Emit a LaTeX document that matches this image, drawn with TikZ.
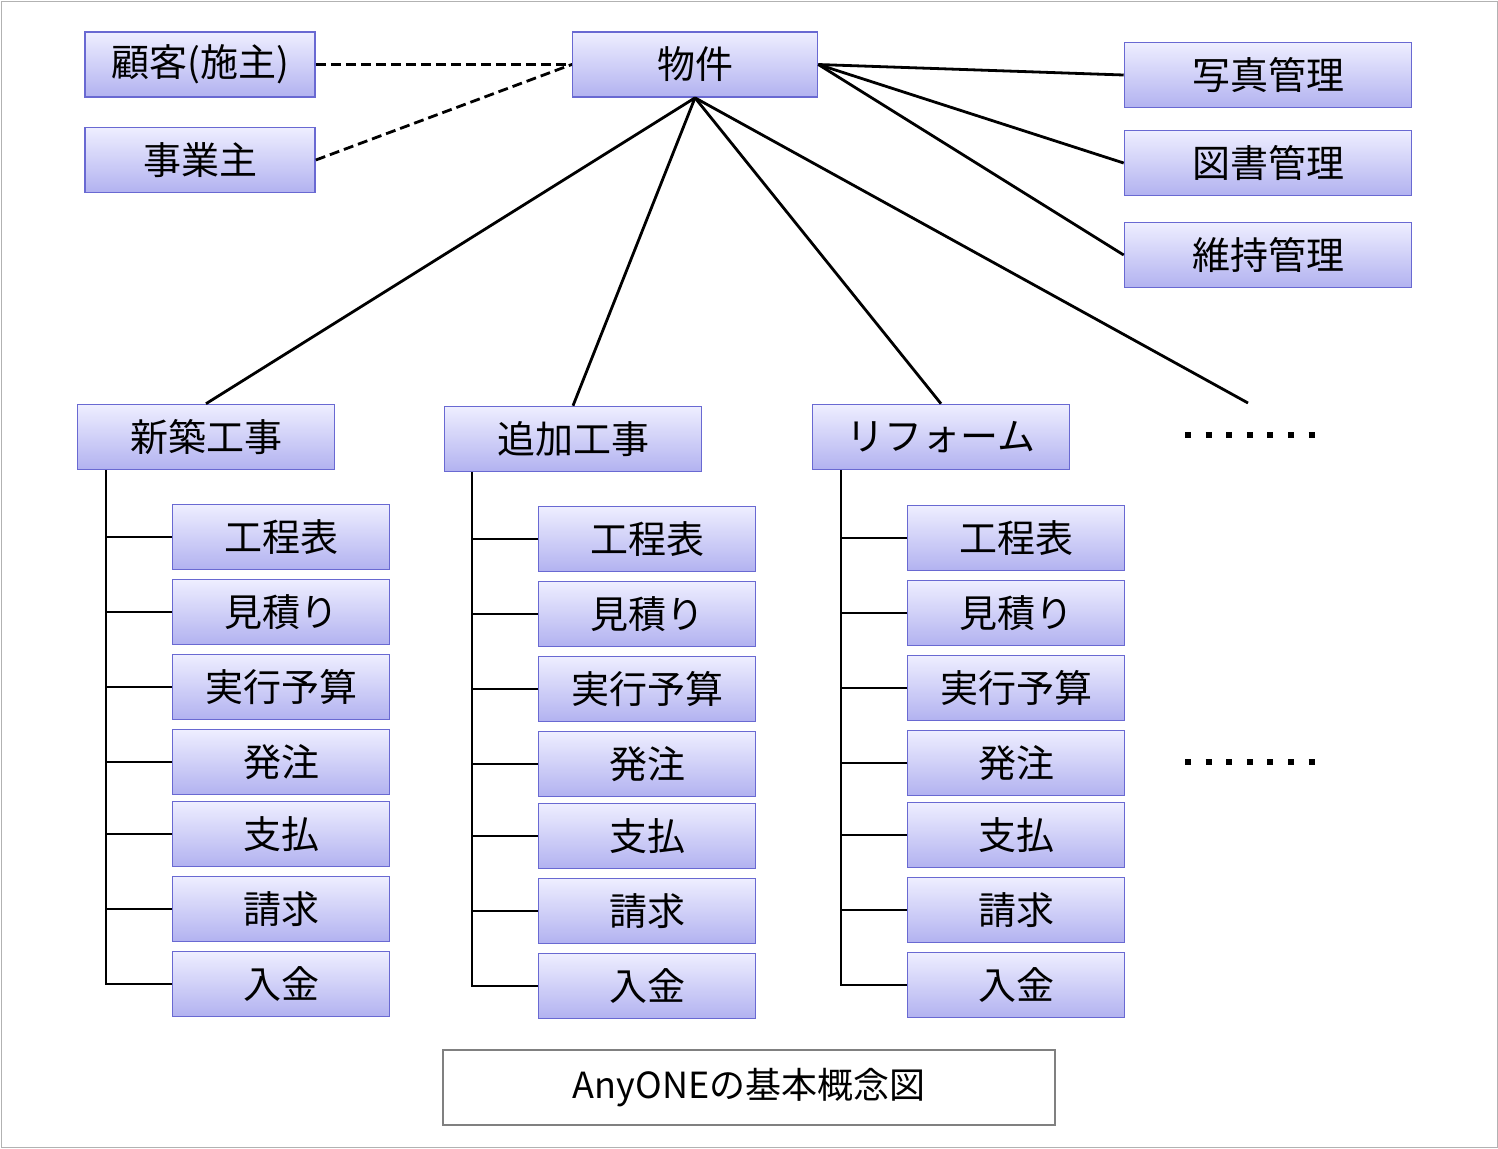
\documentclass[tikz,border=0pt]{standalone}
\usepackage{fontspec}
\setmainfont{Noto Sans CJK JP}
\usetikzlibrary{positioning}
\definecolor{boxtop}{RGB}{238,238,255}
\definecolor{boxbot}{RGB}{178,178,240}
\definecolor{boxline}{RGB}{105,105,210}
\tikzstyle{item}=[rectangle,
	draw=boxline,
	thick,
	top color=boxtop,
	bottom color=boxbot,
	minimum height=32.5pt,
	inner sep=0pt,
	font=\fontsize{19}{21}\selectfont]
\tikzstyle{sub}=[item,
	minimum width=108.5pt]
\tikzstyle{link}=[line width=1.4pt]
\begin{document}
\begin{tikzpicture}[x=0.5pt,y=-0.5pt]
	\useasboundingbox (0,0) rectangle (1498,1148);
	\draw[gray!60] (1,1) rectangle (1497,1147);

	\node (bukken) [item, minimum width=122.5pt] at (695,64.5) {物件};
	\node (kokyaku) [item, minimum width=115pt] at (200,64.5) {顧客(施主)};
	\node (jigyo) [item, minimum width=115pt] at (200,160) {事業主};
	\draw[link, dash pattern=on 5pt off 2.5pt] (kokyaku) -- (bukken.west);
	\draw[link, dash pattern=on 5pt off 2.5pt] (jigyo.east) -- (bukken.west);

	\node (shashin) [item, minimum width=143.5pt] at (1268,75) {写真管理};
	\node (tosho) [item, minimum width=143.5pt] at (1268,163) {図書管理};
	\node (iji) [item, minimum width=143.5pt] at (1268,255) {維持管理};
	\draw[link] (bukken.east) -- (shashin.west);
	\draw[link] (bukken.east) -- (tosho.west);
	\draw[link] (bukken.east) -- (iji.west);

	\node (shinchiku) [item, minimum width=128.5pt] at (206,437) {新築工事};
	\node (tsuika) [item, minimum width=128.5pt] at (573,439) {追加工事};
	\node (reform) [item, minimum width=128.5pt] at (941,437) {リフォーム};
	\coordinate (more) at (1248,403);
	\draw[link] (bukken.south) -- (shinchiku.north);
	\draw[link] (bukken.south) -- (tsuika.north);
	\draw[link] (bukken.south) -- (reform.north);
	\draw[link] (bukken.south) -- (more);
	\draw[line width=3pt, dash pattern=on 3pt off 7.3pt] (1185,435) -- (1320,435);
	\draw[line width=3pt, dash pattern=on 3pt off 7.3pt] (1185,762) -- (1320,762);

	% sub items of each project
	\foreach \col/\proj/\tx/\bx/\dy in {a/shinchiku/106/281/0, b/tsuika/472/647/2, c/reform/841/1016/1} {
		\coordinate (\col-top) at (\tx,470);
		\foreach \k/\lbl/\yy in {1/工程表/537, 2/見積り/612, 3/実行予算/687, 4/発注/762, 5/支払/834, 6/請求/909, 7/入金/984} {
			\node (\col-\k) [sub] at (\bx,\yy+\dy) {\lbl};
			\draw[link] (\col-\k.west) -- (\col-\k.west -| \col-top);
		}
		\draw[link] (\col-top |- \proj.south) -- (\col-7.west -| \col-top) -- (\col-7.west);
	}

	\node (caption) [draw=gray, thick, fill=white, minimum width=306pt, minimum height=37.5pt,
		font=\fontsize{18}{20}\selectfont] at (749,1087.5) {AnyONEの基本概念図};
\end{tikzpicture}
\end{document}
